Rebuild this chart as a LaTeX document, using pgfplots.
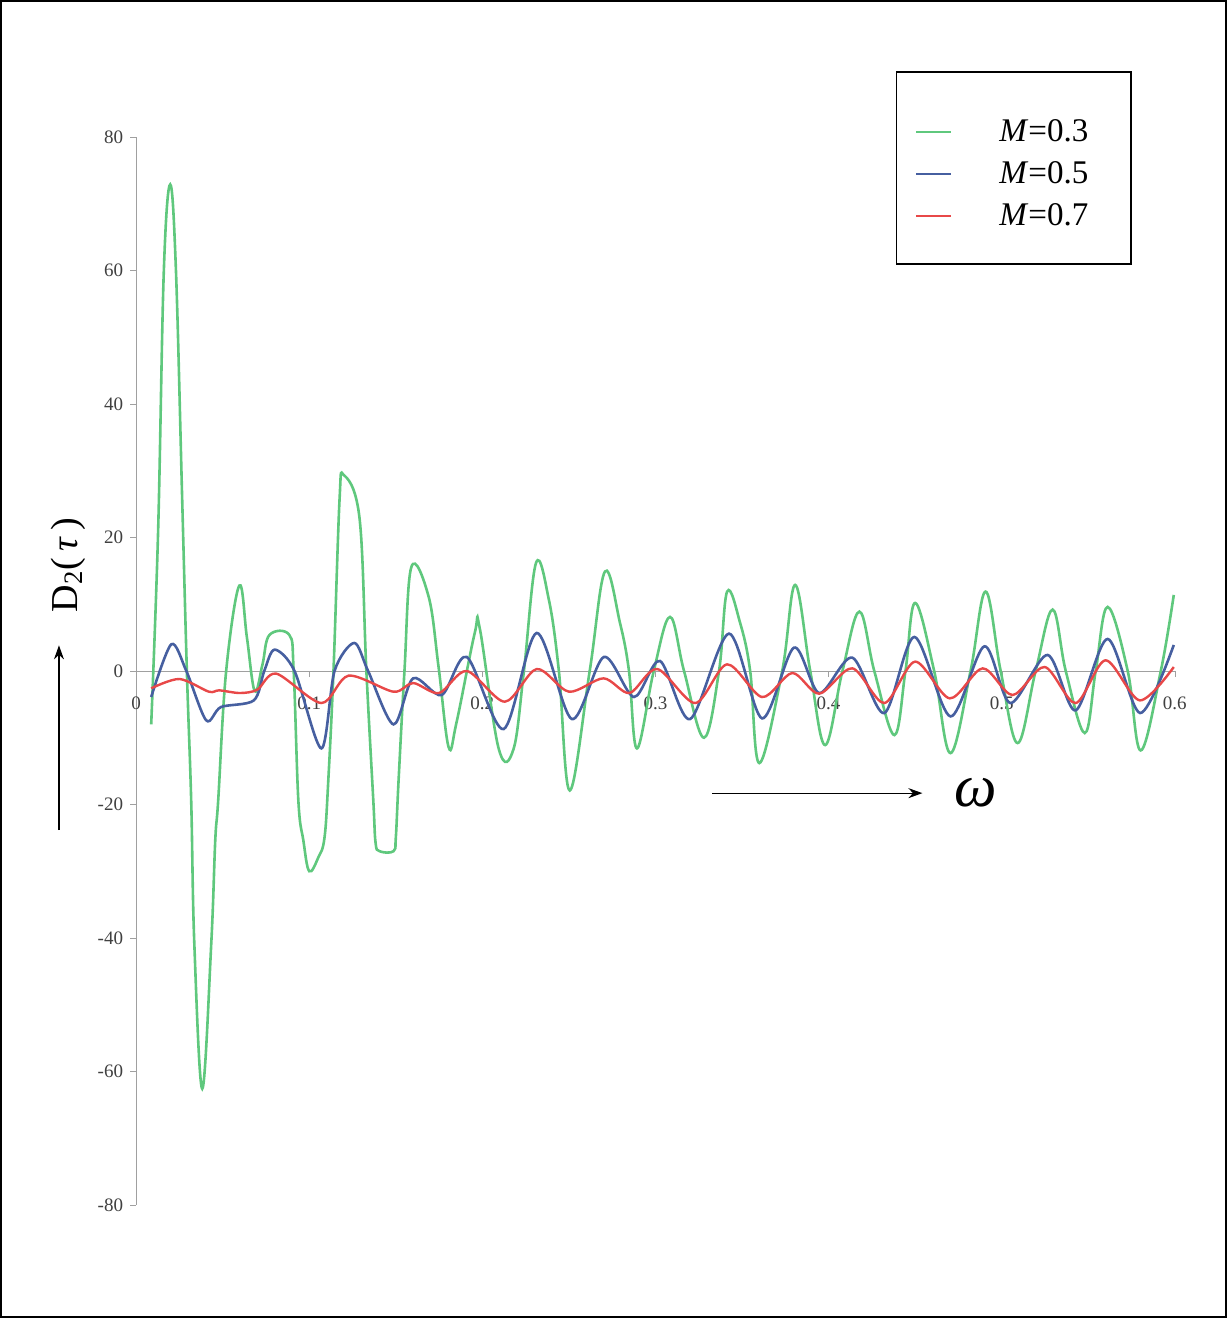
\documentclass[border=0pt]{standalone}
\usepackage{fontspec}
\setmainfont{Liberation Serif}
\usepackage{pgfplots}
\pgfplotsset{compat=1.18}
\usetikzlibrary{arrows.meta}

\definecolor{gMa}{RGB}{95,200,125}
\definecolor{bMb}{RGB}{70,95,160}
\definecolor{rMc}{RGB}{232,72,72}
\definecolor{axgray}{RGB}{160,160,160}

\begin{document}
\begin{tikzpicture}
\begin{axis}[
  scale only axis, width=518.5pt, height=533pt,
  xmin=0, xmax=0.6, ymin=-80, ymax=80,
  axis x line=middle, axis y line=left,
  axis line style={axgray, -},
  xtick={0,0.1,0.2,0.3,0.4,0.5,0.6},
  xticklabels={0,0.1,0.2,0.3,0.4,0.5,0.6},
  ytick={-80,-60,-40,-20,0,20,40,60,80},
  hide obscured x ticks=false, hide obscured y ticks=false,
  tick style={axgray}, tick align=outside, major tick length=3pt,
  ticklabel style={font=\fontsize{9.5}{10}\selectfont, text=black!75},
  /pgf/number format/assume math mode=true,
  xticklabel style={anchor=north, yshift=-6.5pt},
  yticklabel style={xshift=0pt},
  clip=false,
  legend style={draw=none, fill=none, at={(rel axis cs:0.8356,0.9653)}, anchor=center,
    font=\fontsize{16.5}{19}\selectfont, row sep=4.5pt},
  legend cell align=left,
  legend image code/.code={\draw[#1, line width=0.7pt] (0pt,0pt) -- (17pt,0pt);},
]
% M=0.3
\addplot[gMa, line width=1.3pt, smooth, tension=0.62] coordinates {
(0.0087,-8) (0.0127,21) (0.0160,60) (0.0197,72.9) (0.0230,60) (0.0266,25.7)
(0.0293,0) (0.0318,-19.4) (0.0336,-40.8) (0.0382,-62.6) (0.0434,-40.8) (0.0457,-25.4)
(0.0474,-19.4) (0.0520,0) (0.0596,12.8) (0.0640,5) (0.0685,-3) (0.0730,1)
(0.0770,5.4) (0.0885,5.4) (0.0910,0) (0.0937,-19.4) (0.0966,-25.4) (0.1000,-30)
(0.1053,-27.9) (0.1088,-25) (0.1110,-16.4) (0.1140,0) (0.1175,25.7) (0.1198,29.4)
(0.1290,23) (0.1330,0) (0.1370,-19.4) (0.1383,-25.7) (0.1406,-27) (0.1487,-27)
(0.1500,-25) (0.1516,-16.4) (0.1550,0) (0.1590,15.6) (0.1690,11.1) (0.1747,0.6)
(0.1805,-11.4) (0.1850,-7.8) (0.1956,5.7) (0.1985,6.4) (0.2095,-11.7) (0.2180,-11.7)
(0.2240,0) (0.2310,16.2) (0.2384,10.7) (0.2442,0) (0.2505,-17.9) (0.2620,0)
(0.2708,14.9) (0.2795,7.2) (0.2847,0) (0.2893,-11.6) (0.2990,0) (0.3084,8.1)
(0.3165,0) (0.3280,-10) (0.3367,0) (0.3414,11.9) (0.3489,7.2) (0.3547,0)
(0.3600,-13.8) (0.3732,0) (0.3807,12.9) (0.3894,0) (0.3980,-11.1) (0.4080,0)
(0.4178,8.9) (0.4264,0) (0.4380,-9.6) (0.4444,0) (0.4500,10.2) (0.4610,0)
(0.4704,-12.3) (0.4820,0) (0.4907,11.9) (0.4994,0) (0.5092,-10.8) (0.5196,0)
(0.5294,9.2) (0.5370,0) (0.5480,-9.3) (0.5543,0) (0.5612,9.6) (0.5728,0)
(0.5803,-11.9) (0.5919,0) (0.5994,11.4)
};
\addlegendentry{\hspace{22pt}\textit{M}=0.3}
% M=0.5
\addplot[bMb, line width=1.3pt, smooth] coordinates {
(0.0087,-3.9) (0.0203,4.0) (0.0290,0) (0.0405,-7.4) (0.0490,-5.4) (0.0680,-4.4)
(0.0740,0) (0.0800,3.2) (0.0915,0) (0.1070,-11.6) (0.1146,0) (0.1260,4.2)
(0.1340,0) (0.1487,-8) (0.1600,-1.1) (0.1765,-3.6) (0.1910,2.1) (0.2123,-8.7)
(0.2314,5.7) (0.2517,-7.2) (0.2702,2.1) (0.2876,-3.9) (0.3026,1.5) (0.3200,-7.2)
(0.3425,5.6) (0.3616,-7.1) (0.3800,3.5) (0.3946,-3.3) (0.4137,2.0) (0.4322,-6.3)
(0.4496,5.1) (0.4704,-6.8) (0.4900,3.7) (0.5050,-4.8) (0.5265,2.4) (0.5427,-5.9)
(0.5612,4.8) (0.5800,-6.3) (0.5994,3.9)
};
\addlegendentry{\hspace{22pt}\textit{M}=0.5}
% M=0.7
\addplot[rMc, line width=1.2pt, smooth] coordinates {
(0.0087,-2.6) (0.0250,-1.2) (0.0420,-3.1) (0.0480,-2.9) (0.0600,-3.3) (0.0700,-2.8)
(0.0810,-0.4) (0.1070,-4.8) (0.1227,-0.7) (0.1487,-3.1) (0.1600,-1.8) (0.1750,-3.3)
(0.1910,0) (0.2130,-4.6) (0.2314,0.3) (0.2500,-3.1) (0.2700,-1.1) (0.2850,-3.3)
(0.3010,0.3) (0.3230,-4.8) (0.3414,1.0) (0.3616,-3.9) (0.3790,-0.3) (0.3946,-3.4)
(0.4137,0.4) (0.4322,-4.8) (0.4500,1.4) (0.4700,-4.1) (0.4890,0.4) (0.5063,-3.6)
(0.5248,0.6) (0.5427,-4.8) (0.5600,1.6) (0.5798,-4.4) (0.5994,0.6)
};
\addlegendentry{\hspace{22pt}\textit{M}=0.7}

% legend box, labels, arrows and outer frame
\draw[line width=0.8pt] (rel axis cs:0.732,0.881) rectangle (rel axis cs:0.9576,1.061);
\node[rotate=90, font=\fontsize{19}{19}\selectfont] at (rel axis cs:-0.0656,0.5994) {D\textsubscript{2}(\,\textit{τ}\,)};
\draw[line width=0.6pt, -{Stealth[length=7pt,width=5pt]}] (rel axis cs:-0.0743,0.351) -- (rel axis cs:-0.0743,0.524);
\draw[line width=0.6pt, -{Stealth[length=7pt,width=5pt]}] (rel axis cs:0.5545,0.3856) -- (rel axis cs:0.757,0.3856);
\node[font=\fontsize{30}{30}\selectfont] at (rel axis cs:0.808,0.386) {\textit{ω}};
\draw[line width=0.9pt] (rel axis cs:-0.1302,-0.1051) rectangle (rel axis cs:1.0492,1.1276);
\end{axis}
\end{tikzpicture}
\end{document}
